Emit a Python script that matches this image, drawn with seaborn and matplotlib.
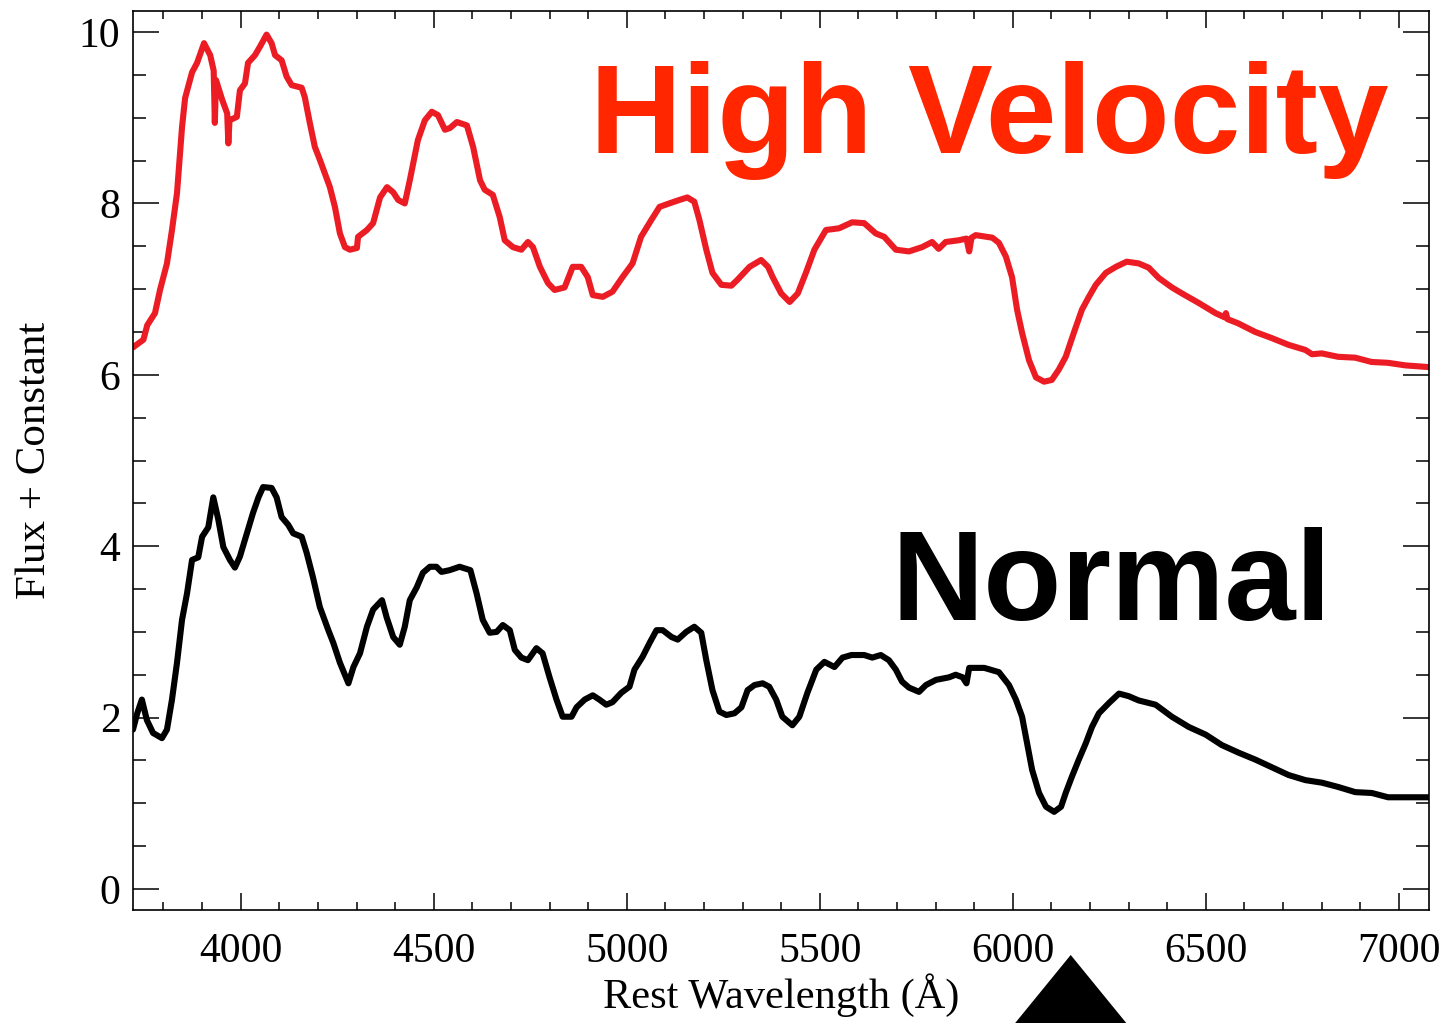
import matplotlib
matplotlib.use("Agg")
import matplotlib.pyplot as plt
import matplotlib.transforms as mtransforms
from matplotlib.patches import Polygon
from matplotlib.ticker import MultipleLocator
import numpy as np
import pandas as pd
import seaborn as sns

# ---- spectra (rest wavelength in Angstrom, flux + constant offset) ----
hv_wave = [3721, 3748, 3758, 3778, 3791, 3809, 3822, 3835, 3848, 3856,
           3874, 3887, 3905, 3921, 3930, 3933, 3936, 3952, 3965, 3968,
           3971, 3990, 3998, 4011, 4019, 4037, 4050, 4067, 4080, 4089,
           4106, 4119, 4132, 4158, 4166, 4179, 4192, 4205, 4218, 4231,
           4244, 4257, 4270, 4283, 4301, 4304, 4327, 4343, 4361, 4379,
           4395, 4408, 4425, 4438, 4459, 4477, 4495, 4511, 4529, 4542,
           4560, 4586, 4602, 4620, 4632, 4653, 4671, 4684, 4705, 4727,
           4744, 4757, 4775, 4796, 4813, 4839, 4860, 4882, 4899, 4912,
           4938, 4963, 4989, 5015, 5037, 5064, 5085, 5110, 5136, 5157,
           5175, 5188, 5206, 5222, 5245, 5271, 5287, 5318, 5348, 5366,
           5378, 5400, 5422, 5443, 5464, 5486, 5516, 5550, 5584, 5615,
           5645, 5667, 5697, 5731, 5765, 5791, 5808, 5826, 5860, 5880,
           5887, 5893, 5904, 5947, 5964, 5982, 5998, 6011, 6024, 6042,
           6060, 6081, 6101, 6119, 6137, 6158, 6179, 6197, 6215, 6241,
           6267, 6295, 6326, 6352, 6378, 6412, 6438, 6481, 6525, 6549,
           6552, 6556, 6584, 6628, 6670, 6714, 6758, 6775, 6800, 6843,
           6887, 6929, 6972, 7017, 7078]
hv_flux = [6.32, 6.41, 6.58, 6.72, 6.99, 7.30, 7.69, 8.12, 8.89, 9.23,
           9.53, 9.64, 9.87, 9.73, 9.55, 8.94, 9.44, 9.21, 9.05, 8.70,
           8.97, 9.01, 9.32, 9.40, 9.64, 9.73, 9.83, 9.97, 9.87, 9.73,
           9.67, 9.48, 9.38, 9.35, 9.24, 8.94, 8.66, 8.51, 8.35, 8.19,
           7.96, 7.65, 7.49, 7.46, 7.48, 7.61, 7.69, 7.77, 8.07, 8.19,
           8.13, 8.04, 8.00, 8.27, 8.74, 8.97, 9.07, 9.03, 8.86, 8.88,
           8.95, 8.91, 8.66, 8.27, 8.16, 8.10, 7.84, 7.57, 7.49, 7.46,
           7.55, 7.49, 7.26, 7.07, 6.99, 7.02, 7.26, 7.26, 7.14, 6.93,
           6.91, 6.97, 7.14, 7.30, 7.61, 7.81, 7.96, 8.00, 8.04, 8.07,
           8.02, 7.81, 7.46, 7.19, 7.05, 7.04, 7.11, 7.26, 7.34, 7.26,
           7.14, 6.95, 6.85, 6.95, 7.19, 7.46, 7.69, 7.71, 7.78, 7.77,
           7.65, 7.61, 7.46, 7.44, 7.49, 7.55, 7.47, 7.55, 7.57, 7.59,
           7.44, 7.60, 7.63, 7.60, 7.54, 7.38, 7.14, 6.76, 6.49, 6.17,
           5.97, 5.92, 5.94, 6.06, 6.21, 6.49, 6.76, 6.91, 7.05, 7.19,
           7.26, 7.32, 7.30, 7.25, 7.13, 7.02, 6.95, 6.84, 6.72, 6.67,
           6.72, 6.65, 6.60, 6.50, 6.43, 6.35, 6.29, 6.24, 6.25, 6.21,
           6.20, 6.15, 6.14, 6.11, 6.09]

nv_wave = [3721, 3732, 3744, 3757, 3773, 3796, 3809, 3822, 3835, 3848,
           3861, 3874, 3890, 3900, 3916, 3929, 3942, 3955, 3972, 3985,
           3998, 4016, 4032, 4046, 4058, 4080, 4093, 4106, 4123, 4136,
           4158, 4171, 4187, 4205, 4227, 4240, 4257, 4279, 4292, 4309,
           4327, 4343, 4366, 4378, 4395, 4412, 4425, 4438, 4456, 4472,
           4490, 4507, 4520, 4541, 4567, 4595, 4611, 4627, 4645, 4663,
           4679, 4697, 4710, 4727, 4744, 4766, 4782, 4800, 4818, 4834,
           4857, 4870, 4891, 4912, 4929, 4947, 4963, 4986, 5007, 5020,
           5041, 5059, 5077, 5093, 5116, 5132, 5154, 5175, 5193, 5206,
           5222, 5240, 5258, 5279, 5297, 5313, 5331, 5352, 5369, 5387,
           5403, 5429, 5447, 5468, 5491, 5512, 5538, 5559, 5582, 5615,
           5636, 5658, 5679, 5697, 5713, 5731, 5757, 5775, 5801, 5835,
           5852, 5870, 5880, 5887, 5926, 5964, 5990, 6008, 6024, 6037,
           6050, 6068, 6086, 6107, 6125, 6137, 6153, 6171, 6189, 6205,
           6223, 6249, 6275, 6300, 6326, 6370, 6412, 6456, 6500, 6541,
           6585, 6628, 6671, 6714, 6758, 6801, 6843, 6887, 6930, 6972,
           7017, 7078]
nv_flux = [1.86, 2.05, 2.21, 1.97, 1.82, 1.76, 1.86, 2.21, 2.64, 3.14,
           3.45, 3.84, 3.87, 4.11, 4.22, 4.57, 4.31, 3.99, 3.84, 3.75,
           3.88, 4.15, 4.39, 4.57, 4.69, 4.68, 4.57, 4.34, 4.25, 4.15,
           4.11, 3.92, 3.64, 3.29, 3.02, 2.87, 2.64, 2.40, 2.59, 2.75,
           3.06, 3.26, 3.37, 3.17, 2.94, 2.85, 3.06, 3.37, 3.52, 3.69,
           3.76, 3.76, 3.70, 3.72, 3.76, 3.72, 3.45, 3.14, 2.99, 3.00,
           3.08, 3.02, 2.79, 2.70, 2.67, 2.81, 2.75, 2.47, 2.21, 2.01,
           2.01, 2.12, 2.21, 2.26, 2.21, 2.15, 2.18, 2.29, 2.36, 2.56,
           2.71, 2.87, 3.02, 3.02, 2.94, 2.91, 3.00, 3.06, 2.99, 2.67,
           2.32, 2.07, 2.03, 2.05, 2.12, 2.32, 2.38, 2.40, 2.36, 2.21,
           2.01, 1.91, 2.01, 2.29, 2.56, 2.65, 2.59, 2.70, 2.73, 2.73,
           2.70, 2.73, 2.67, 2.56, 2.42, 2.35, 2.30, 2.38, 2.44, 2.47,
           2.50, 2.47, 2.40, 2.58, 2.58, 2.53, 2.38, 2.21, 2.01, 1.70,
           1.39, 1.12, 0.96, 0.90, 0.96, 1.12, 1.31, 1.51, 1.70, 1.89,
           2.05, 2.17, 2.28, 2.25, 2.20, 2.15, 2.01, 1.89, 1.80, 1.68,
           1.59, 1.51, 1.42, 1.33, 1.27, 1.24, 1.19, 1.13, 1.12, 1.07,
           1.07, 1.07]

series_names = ["High Velocity", "Normal"]
series_colors = {"High Velocity": "#ec1c24", "Normal": "#000000"}
label_colors = {"High Velocity": "#ff2600", "Normal": "#000000"}
marker_wave = 6150  # wavelength flagged below the axis

spectra = pd.concat([
    pd.DataFrame({"wave": hv_wave, "flux": hv_flux, "type": series_names[0]}),
    pd.DataFrame({"wave": nv_wave, "flux": nv_flux, "type": series_names[1]}),
], ignore_index=True)

sns.set_theme(style="ticks")
plt.rcParams.update({
    "font.family": ["Liberation Serif", "DejaVu Serif"],
    "text.color": "black",
    "axes.labelcolor": "black",
    "xtick.direction": "in",
    "ytick.direction": "in",
    "xtick.top": True,
    "ytick.right": True,
    "axes.linewidth": 1.2,
    "axes.edgecolor": "black",
    "xtick.color": "black",
    "ytick.color": "black",
    "xtick.labelcolor": "black",
    "ytick.labelcolor": "black",
})

fig = plt.figure(figsize=(14.44, 10.23), dpi=100)
ax = fig.add_axes([0.0921, 0.1105, 0.8975, 0.8787])

sns.lineplot(data=spectra, x="wave", y="flux", hue="type",
             palette=series_colors, estimator=None, sort=False,
             linewidth=4.4, legend=False, ax=ax)

ax.set_xlim(3721, 7078)
ax.set_ylim(-0.245, 10.245)

ax.xaxis.set_major_locator(MultipleLocator(500))
ax.xaxis.set_minor_locator(MultipleLocator(100))
ax.yaxis.set_major_locator(MultipleLocator(2))
ax.yaxis.set_minor_locator(MultipleLocator(0.5))

ax.tick_params(axis="x", which="major", length=12, width=1.1, pad=16, labelsize=30)
ax.tick_params(axis="x", which="minor", length=6, width=1.1)
ax.tick_params(axis="y", which="major", length=18.5, width=1.1, pad=9, labelsize=30)
ax.tick_params(axis="y", which="minor", length=9.5, width=1.1)

ax.set_xlabel("Rest Wavelength (Å)", fontsize=30.5, labelpad=2)
ax.set_ylabel("Flux + Constant", fontsize=31, labelpad=18)

# series labels
ax.text(4906, 8.59, series_names[0], color=label_colors["High Velocity"],
        fontsize=91.5, fontweight="bold", family=["Liberation Sans", "DejaVu Sans"],
        ha="left", va="baseline")
ax.text(5687, 3.14, series_names[1], color=label_colors["Normal"],
        fontsize=92, fontweight="bold", family=["Liberation Sans", "DejaVu Sans"],
        ha="left", va="baseline")

# solid triangle pointing at the flagged wavelength, below the axis
trans = mtransforms.blended_transform_factory(ax.transData, fig.transFigure)
tri = Polygon([(marker_wave, 0.0665),
               (marker_wave - 252, -0.05),
               (marker_wave + 252, -0.05)],
              closed=True, facecolor="black", edgecolor="none",
              transform=trans, clip_on=False)
fig.add_artist(tri)

fig.savefig("out.png", dpi=100)
